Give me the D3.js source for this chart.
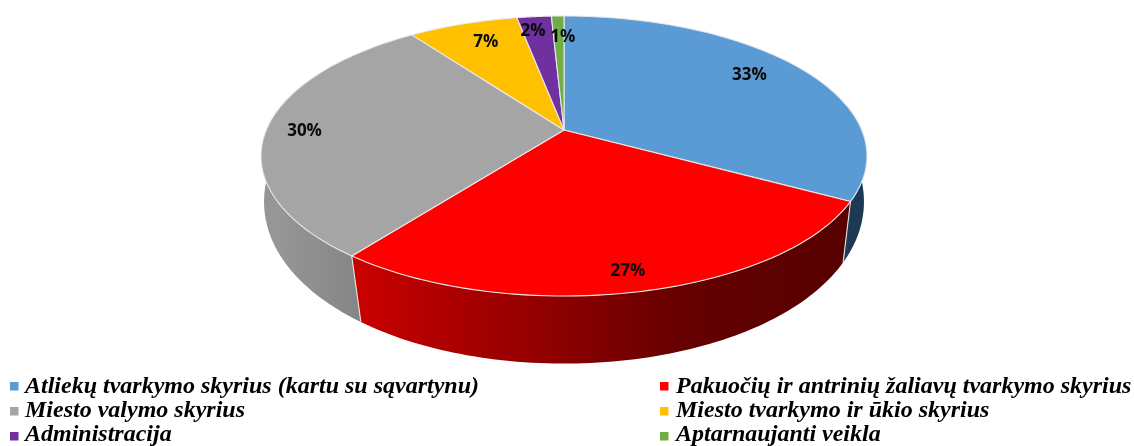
<!DOCTYPE html>
<html>
<head>
<meta charset="utf-8">
<style>
  html, body { margin: 0; padding: 0; background: #fff; }
  svg { display: block; filter: blur(0.45px); }
  .pct { font-family: "Open Sans", sans-serif; font-weight: 700; font-size: 17px; fill: #0a0a0a; text-anchor: middle; }
  .leg { font-family: "Liberation Serif", serif; font-weight: 700; font-style: italic; font-size: 24px; fill: #000; }
</style>
</head>
<body>
<script src="https://cdnjs.cloudflare.com/ajax/libs/d3/7.8.5/d3.min.js"></script>
<script>
// data
const categories = [
  'Atliekų tvarkymo skyrius (kartu su sąvartynu)',
  'Pakuočių ir antrinių žaliavų tvarkymo skyrius',
  'Miesto valymo skyrius',
  'Miesto tvarkymo ir ūkio skyrius',
  'Administracija',
  'Aptarnaujanti veikla'
];
const shares = [33.0, 27.4, 29.6, 7.0, 2.2, 0.8];
const shareLabels = ['33%', '27%', '30%', '7%', '2%', '1%'];
const colors = ['#5b9bd5', '#ff0000', '#a5a5a5', '#ffc000', '#7030a0', '#70ad47'];
const sideLeft = ['#24456a', '#c80000', '#969696', '#b08500', '#4e2270', '#4e7a32'];
const sideMid = ['#1f3c59', '#640000', '#8a8a8a', '#b08500', '#4e2270', '#4e7a32'];
const sideRight = ['#1d3954', '#570000', '#858585', '#b08500', '#4e2270', '#4e7a32'];
const labelRadius = [0.79, 0.9, 0.87, 0.8, 0.85, 0.8];
const labelNudge = [[-3, -6], [-2, -2], [-1, 1], [5, -2], [-5, -1], [4, 0]];

const width = 1134, height = 446;
const cx = 564;

// the pie is seen in perspective, so each disc is a projected circle
const topDisc = {cy: 130, bx: 297.7, by: 135.2, kx: -0.1857, ky: -0.1857};
const baseDisc = {cy: 178, bx: 297, by: 167, kx: -0.14, ky: -0.1};

function project(disc, angle, r) {
  const u = Math.sin(angle) * r, v = -Math.cos(angle) * r;
  return [cx + disc.bx * u / (1 + disc.kx * v), disc.cy + disc.by * v / (1 + disc.ky * v)];
}

function arcAngles(a0, a1, n) {
  return d3.range(n + 1).map(t => a0 + (a1 - a0) * t / n);
}

const svg = d3.select('body').append('svg')
  .attr('width', width)
  .attr('height', height);

const defs = svg.append('defs');
const arcs = d3.pie().sort(null).value(d => d)(shares);
const line = d3.line();

// only the front of the rim can show
const frontFrom = Math.PI * 0.44, frontTo = Math.PI * 1.56;
const walls = arcs
  .map((a, i) => ({i, a0: Math.max(a.startAngle, frontFrom), a1: Math.min(a.endAngle, frontTo)}))
  .filter(w => w.a1 > w.a0);

walls.forEach(w => {
  const xs = [project(baseDisc, w.a0, 1)[0], project(baseDisc, w.a1, 1)[0]];
  const g = defs.append('linearGradient')
    .attr('id', 'wall' + w.i)
    .attr('gradientUnits', 'userSpaceOnUse')
    .attr('x1', d3.min(xs)).attr('x2', d3.max(xs))
    .attr('y1', 0).attr('y2', 0);
  g.append('stop').attr('offset', 0).attr('stop-color', sideLeft[w.i]);
  g.append('stop').attr('offset', 0.68).attr('stop-color', sideMid[w.i]);
  g.append('stop').attr('offset', 1).attr('stop-color', sideRight[w.i]);
});

svg.append('g').selectAll('path')
  .data(walls)
  .join('path')
    .attr('d', w => {
      const steps = arcAngles(w.a0, w.a1, 80);
      return line([...steps.map(t => project(topDisc, t, 1)),
                   ...steps.reverse().map(t => project(baseDisc, t, 1))]) + 'Z';
    })
    .attr('fill', w => `url(#wall${w.i})`);

// light seams where the slices meet on the wall
svg.append('g').selectAll('path')
  .data(arcs.filter(a => Math.cos(a.endAngle) < -0.1))
  .join('path')
    .attr('d', a => line([project(topDisc, a.endAngle, 1), project(baseDisc, a.endAngle, 1)]))
    .attr('stroke', '#e4e4e4')
    .attr('stroke-width', 1.1)
    .attr('fill', 'none');

// top face
svg.append('g').selectAll('path')
  .data(arcs)
  .join('path')
    .attr('d', a => line([[cx, topDisc.cy], ...arcAngles(a.startAngle, a.endAngle, 60).map(t => project(topDisc, t, 1))]) + 'Z')
    .attr('fill', (a, i) => colors[i])
    .attr('stroke', '#e8e8e8')
    .attr('stroke-width', 1.1)
    .attr('stroke-linejoin', 'round');

// percent labels
svg.append('g').selectAll('text')
  .data(arcs)
  .join('text')
    .attr('class', 'pct')
    .attr('transform', (a, i) => {
      const p = project(topDisc, (a.startAngle + a.endAngle) / 2, labelRadius[i]);
      return `translate(${p[0] + labelNudge[i][0]},${p[1] + labelNudge[i][1]})`;
    })
    .attr('dy', '0.36em')
    .text((a, i) => shareLabels[i]);

// legend, two columns filled row by row
const legendX = d3.scaleOrdinal().domain([0, 1]).range([10, 660]);
const legendY = d3.scalePoint().domain([0, 1, 2]).range([386, 436]);

const items = svg.append('g').selectAll('g')
  .data(categories)
  .join('g')
    .attr('transform', (c, i) => `translate(${legendX(i % 2)},${legendY(Math.floor(i / 2))})`);

items.append('rect')
  .attr('y', -4)
  .attr('width', 8.5)
  .attr('height', 8.5)
  .attr('fill', (c, i) => colors[i]);

items.append('text')
  .attr('class', 'leg')
  .attr('x', (c, i) => i % 2 ? 16 : 15)
  .attr('y', (c, i) => 7 - Math.floor(i / 2))
  .text(c => c);
</script>
</body>
</html>
